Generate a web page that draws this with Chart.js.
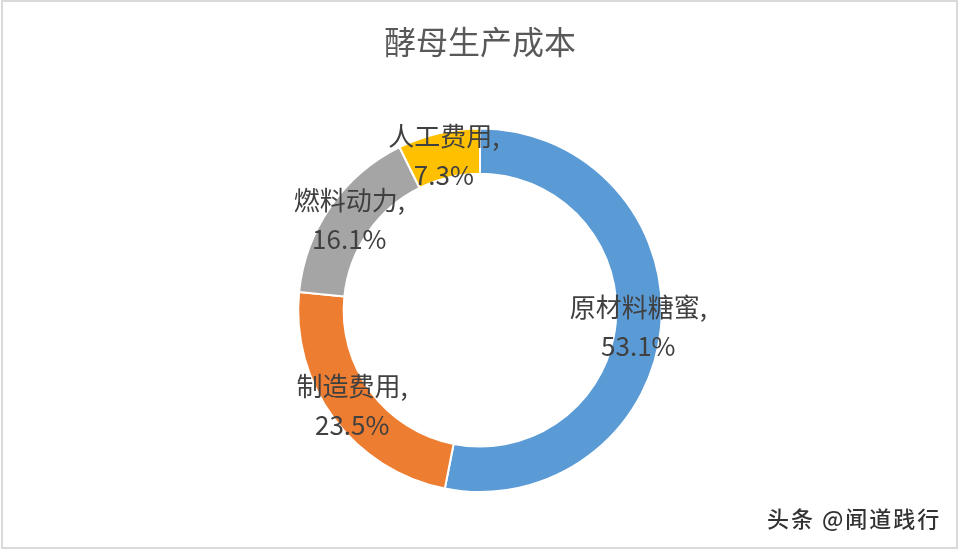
<!DOCTYPE html>
<html>
<head>
<meta charset="utf-8">
<script src="https://cdn.jsdelivr.net/npm/chart.js@4/dist/chart.umd.min.js"></script>
<style>
  html, body { margin: 0; padding: 0; background: #fff; }
  #wrap { width: 960px; height: 551px; position: relative; }
</style>
</head>
<body>
<div id="wrap"><canvas id="graficaCosto"></canvas></div>
<script>
const categorias = ['原材料糖蜜', '制造费用', '燃料动力', '人工费用'];
const porcentajes = [53.1, 23.5, 16.1, 7.3];
const colores = ['#5B9BD5', '#ED7D31', '#A5A5A5', '#FFC000'];
const titulo = '酵母生产成本';
const marcaAgua = '头条 @闻道践行';

const FUENTE = '"Noto Sans CJK SC", "Noto Sans", sans-serif';

// etiquetas "nombre," / "valor%" centradas en cada arco
const etiquetas = {
    id: 'etiquetas',
    afterDatasetsDraw(chart) {
        const ctx = chart.ctx;
        const meta = chart.getDatasetMeta(0);
        ctx.save();
        ctx.font = '26px ' + FUENTE;
        ctx.fillStyle = '#404040';
        ctx.textAlign = 'center';
        ctx.textBaseline = 'middle';
        meta.data.forEach((arc, i) => {
            const p = arc.tooltipPosition();
            ctx.fillText(categorias[i] + ',', p.x, p.y - 19);
            ctx.fillText(porcentajes[i].toFixed(1) + '%', p.x, p.y + 20);
        });
        ctx.restore();
    }
};

// marco gris y marca de agua
const marco = {
    id: 'marco',
    afterDraw(chart) {
        const ctx = chart.ctx;
        ctx.save();
        ctx.strokeStyle = '#d9d9d9';
        ctx.lineWidth = 2;
        ctx.strokeRect(2, 1, 955, 547);

        ctx.font = '500 22px ' + FUENTE;
        ctx.letterSpacing = '2px';
        ctx.textAlign = 'left';
        ctx.textBaseline = 'middle';
        ctx.fillStyle = '#ffffff';
        ctx.fillText(marcaAgua, 769, 520);
        ctx.fillStyle = '#333333';
        ctx.fillText(marcaAgua, 767, 519);
        ctx.restore();
    }
};

const ctx = document.getElementById('graficaCosto').getContext('2d');

const graficaCosto = new Chart(ctx, {
    type: 'doughnut',
    data: {
        labels: categorias,
        datasets: [{
            data: porcentajes,
            backgroundColor: colores,
            borderColor: '#ffffff',
            borderWidth: 2
        }]
    },
    options: {
        responsive: true,
        maintainAspectRatio: false,
        animation: false,
        cutout: '75%',
        layout: {
            padding: { top: 0, bottom: 58, left: 0, right: 0 }
        },
        plugins: {
            legend: { display: false },
            tooltip: { enabled: false },
            title: {
                display: true,
                text: titulo,
                color: '#595959',
                font: { family: FUENTE, size: 32, weight: 'normal' },
                padding: { top: 23, bottom: 66 }
            }
        }
    },
    plugins: [etiquetas, marco]
});
</script>
</body>
</html>
